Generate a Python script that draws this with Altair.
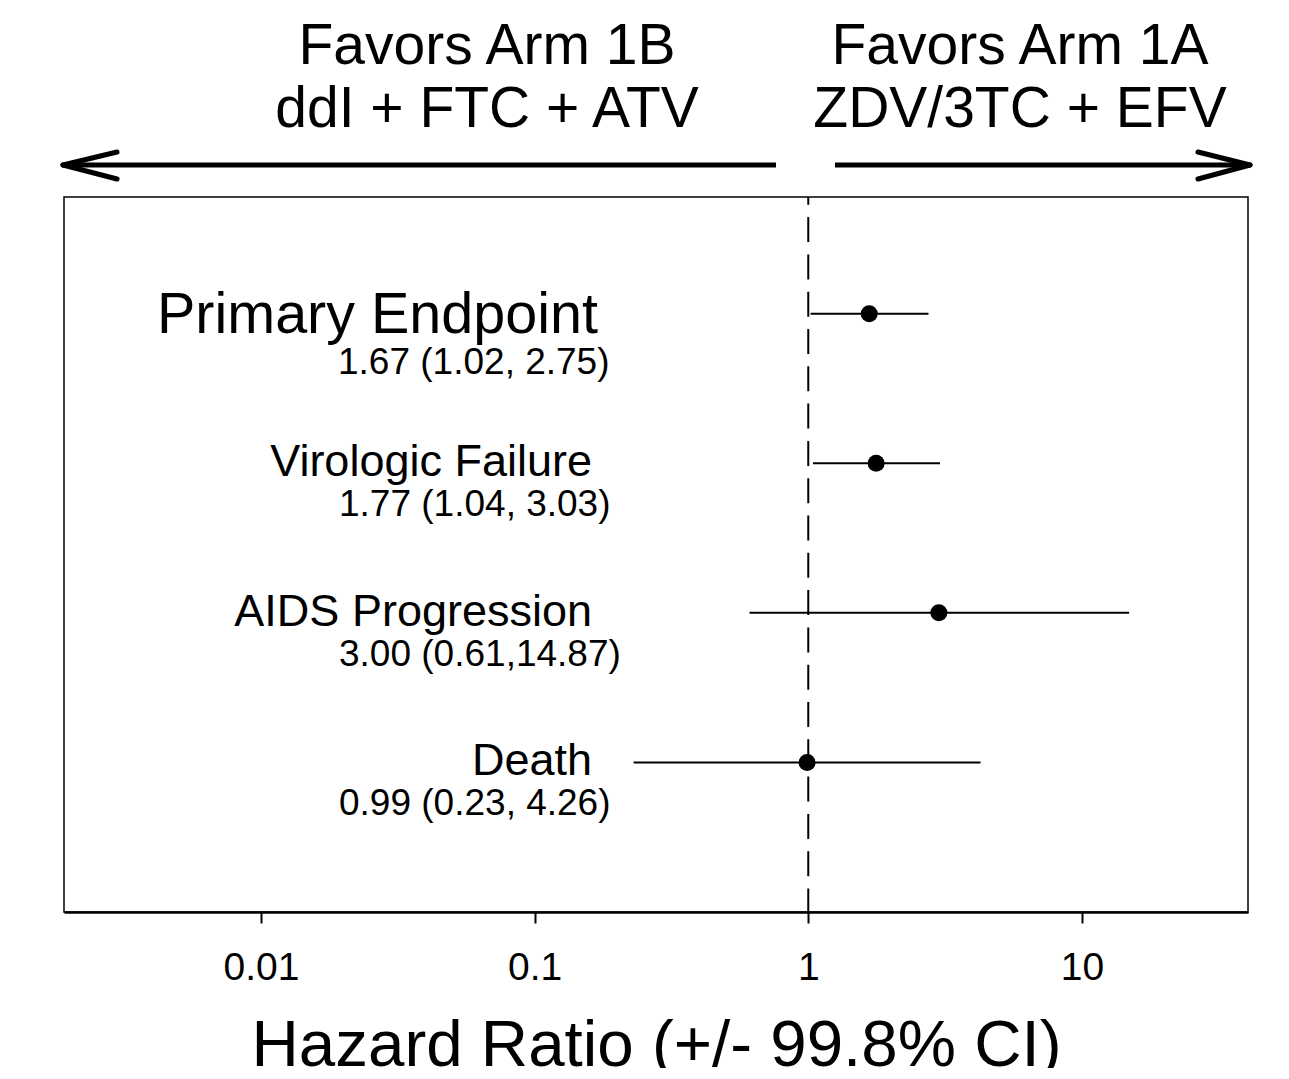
import altair as alt
import pandas as pd

# ---- data ----
endpoints = ["Primary Endpoint", "Virologic Failure", "AIDS Progression", "Death"]
hazard_ratio = [1.67, 1.77, 3.00, 0.99]
ci_lower = [1.02, 1.04, 0.61, 0.23]
ci_upper = [2.75, 3.03, 14.87, 4.26]
ci_labels = ["1.67 (1.02, 2.75)", "1.77 (1.04, 3.03)", "3.00 (0.61,14.87)", "0.99 (0.23, 4.26)"]
x_ticks = [0.01, 0.1, 1, 10]
reference_hr = 1
left_header = ["Favors Arm 1B", "ddI + FTC + ATV"]
right_header = ["Favors Arm 1A", "ZDV/3TC + EFV"]
x_title = "Hazard Ratio (+/- 99.8% CI)"

n = len(endpoints)
df = pd.DataFrame({
    "endpoint": endpoints,
    "hr": hazard_ratio,
    "lo": ci_lower,
    "hi": ci_upper,
    "ci": ci_labels,
    "row": [n - i for i in range(n)],
    "primary": [i == 0 for i in range(n)],
})

FONT = "Liberation Sans"
W, H = 1184, 715

xscale = alt.Scale(type="log", domain=[0.001907, 40.44], nice=False)
yscale = alt.Scale(domain=[0, 4.78], nice=False, zero=False)
xaxis = alt.Axis(
    values=x_ticks, format="~g", title=x_title, grid=False,
    domainColor="black", domainWidth=2.5, tickColor="black", tickWidth=2,
    tickSize=11, labelFontSize=39, labelColor="black", labelPadding=25,
    labelFont=FONT, titleFont=FONT, titleFontSize=65.5, titleFontWeight="normal",
    titleColor="black", titlePadding=26, labelFlush=False, labelOverlap=False,
)


def xenc(field):
    return alt.X(field, type="quantitative", scale=xscale, axis=xaxis)


def yenc(field):
    return alt.Y(field, type="quantitative", scale=yscale, axis=None)


base = alt.Chart(df)

ref_rule = alt.Chart(alt.Data(values=[{"ref": reference_hr}])).mark_rule(
    color="black", strokeWidth=2, strokeDash=[25, 12.3], strokeDashOffset=17.2
).encode(x=xenc("ref"))

ci_rules = base.mark_rule(color="black", strokeWidth=2).encode(
    x=xenc("lo"), x2="hi", y=yenc("row")
)

points = base.mark_circle(color="black", size=290, opacity=1).encode(
    x=xenc("hr"), y=yenc("row")
)

name_primary = base.transform_filter("datum.primary").mark_text(
    align="right", baseline="alphabetic", fontSize=57.5, font=FONT, color="black", dy=19
).encode(x=alt.value(534), y=yenc("row"), text="endpoint:N")

name_other = base.transform_filter("!datum.primary").mark_text(
    align="right", baseline="alphabetic", fontSize=45, font=FONT, color="black", dy=13
).encode(x=alt.value(528), y=yenc("row"), text="endpoint:N")

ci_primary = base.transform_filter("datum.primary").mark_text(
    align="left", baseline="alphabetic", fontSize=37, font=FONT, color="black", dy=60
).encode(x=alt.value(274), y=yenc("row"), text="ci:N")

ci_other = base.transform_filter("!datum.primary").mark_text(
    align="left", baseline="alphabetic", fontSize=37, font=FONT, color="black", dy=53
).encode(x=alt.value(275), y=yenc("row"), text="ci:N")

deco = alt.Chart(alt.Data(values=[{}]))

head_left = deco.mark_text(
    text=left_header, align="center", baseline="alphabetic", fontSize=57,
    font=FONT, color="black", lineHeight=63
).encode(x=alt.value(423), y=alt.value(-133))

head_right = deco.mark_text(
    text=right_header, align="center", baseline="alphabetic", fontSize=57,
    font=FONT, color="black", lineHeight=63
).encode(x=alt.value(956), y=alt.value(-133))

arrow_style = dict(color="black", strokeWidth=5)
arm_style = dict(color="black", strokeWidth=5, strokeCap="round")

left_shaft = deco.mark_rule(**arrow_style).encode(
    x=alt.value(-1), x2=alt.value(712), y=alt.value(-32), y2=alt.value(-32))
left_arm1 = deco.mark_rule(**arm_style).encode(
    x=alt.value(-1), x2=alt.value(53), y=alt.value(-32), y2=alt.value(-45))
left_arm2 = deco.mark_rule(**arm_style).encode(
    x=alt.value(-1), x2=alt.value(53), y=alt.value(-32), y2=alt.value(-18))

right_shaft = deco.mark_rule(**arrow_style).encode(
    x=alt.value(771), x2=alt.value(1186), y=alt.value(-32), y2=alt.value(-32))
right_arm1 = deco.mark_rule(**arm_style).encode(
    x=alt.value(1186), x2=alt.value(1134), y=alt.value(-32), y2=alt.value(-45))
right_arm2 = deco.mark_rule(**arm_style).encode(
    x=alt.value(1186), x2=alt.value(1134), y=alt.value(-32), y2=alt.value(-18))

chart = alt.layer(
    ref_rule, ci_rules, points, name_primary, name_other, ci_primary, ci_other,
    head_left, head_right, left_shaft, left_arm1, left_arm2,
    right_shaft, right_arm1, right_arm2,
).properties(
    width=W, height=H,
    padding={"left": 56, "top": 189, "right": 30, "bottom": 156},
    autosize=alt.AutoSizeParams(type="none"),
    background="white",
).configure(
    font=FONT
).configure_view(
    stroke="black", strokeWidth=1.5
)

chart.save("out.html", embed_options={"renderer": "svg", "actions": False})
